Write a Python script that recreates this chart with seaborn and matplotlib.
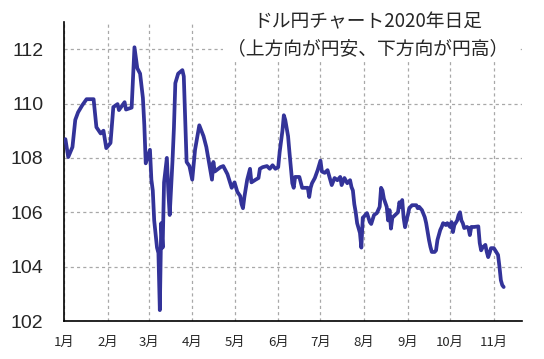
import numpy as np
import pandas as pd
import matplotlib
matplotlib.use("Agg")
import matplotlib.pyplot as plt
from matplotlib.patches import Rectangle
import seaborn as sns

# ---- data ----
days_since_jan1 = [
    1, 3, 6, 8, 10, 13, 16, 21, 23, 26, 28, 30, 33, 35, 38, 39, 43, 44, 48, 50,
    52, 54, 56, 57, 58, 61, 62, 63, 64, 66, 67, 68, 69, 70, 71, 73, 74, 75, 77, 78,
    79, 81, 84, 85, 86, 87, 89, 91, 93, 96, 99, 101, 103, 105, 106, 107, 111, 113, 116, 119,
    121, 123, 125, 126, 127, 128, 130, 132, 133, 136, 138, 139, 141, 144, 146, 148, 150, 152, 153, 155,
    156, 157, 159, 160, 162, 163, 164, 167, 169, 171, 173, 174, 175, 176, 178, 180, 182, 183, 185, 187,
    190, 192, 194, 196, 197, 199, 201, 203, 204, 205, 206, 207, 208, 210, 211, 212, 213, 215, 217, 218,
    220, 222, 224, 225, 226, 227, 229, 230, 231, 232, 233, 235, 237, 238, 239, 240, 241, 242, 243, 244,
    245, 247, 250, 251, 252, 254, 256, 257, 259, 260, 261, 263, 264, 265, 267, 268, 269, 271, 272, 274,
    275, 276, 277, 279, 280, 281, 282, 283, 284, 286, 287, 288, 289, 291, 294, 295, 296, 297, 299, 300,
    301, 302, 303, 305, 306, 308, 309, 310, 311, 312,
]
usd_jpy = [
    108.69, 108.03, 108.40, 109.40, 109.68, 109.94, 110.16, 110.16, 109.13, 108.90, 109.00, 108.36, 108.55, 109.87, 109.98, 109.76, 110.05, 109.78, 109.85, 112.07,
    111.30, 111.10, 110.20, 109.20, 107.80, 108.30, 107.20, 106.80, 105.70, 104.70, 104.50, 102.40, 105.60, 104.70, 107.10, 108.00, 106.80, 105.90, 107.90, 109.10,
    110.75, 111.10, 111.23, 111.00, 109.40, 107.85, 107.70, 107.20, 108.30, 109.20, 108.80, 108.40, 107.80, 107.20, 107.85, 107.50, 107.66, 107.70, 107.40, 106.90,
    107.10, 106.75, 106.60, 106.30, 106.15, 106.56, 107.20, 107.60, 107.10, 107.20, 107.26, 107.60, 107.66, 107.70, 107.60, 107.73, 107.60, 107.66, 108.20, 109.00,
    109.57, 109.40, 108.80, 108.20, 107.07, 106.90, 107.30, 107.30, 106.90, 106.90, 106.90, 106.56, 106.90, 107.07, 107.26, 107.55, 107.90, 107.50, 107.45, 107.55,
    107.00, 107.26, 107.18, 107.30, 107.00, 107.26, 107.07, 107.18, 106.93, 106.80, 106.30, 106.00, 105.60, 105.24, 104.70, 105.80, 105.85, 105.97, 105.64, 105.57,
    105.90, 105.97, 106.20, 106.90, 106.80, 106.50, 106.20, 105.70, 106.08, 105.40, 105.80, 105.90, 106.00, 106.37, 106.20, 106.45, 105.80, 105.45, 105.70, 105.90,
    106.15, 106.26, 106.26, 106.15, 106.20, 106.08, 105.82, 105.60, 104.98, 104.73, 104.54, 104.54, 104.60, 104.98, 105.35, 105.46, 105.60, 105.53, 105.60, 105.46,
    105.64, 105.27, 105.53, 105.70, 105.90, 106.00, 105.70, 105.60, 105.42, 105.46, 105.42, 105.16, 105.46, 105.46, 105.48, 104.87, 104.60, 104.70, 104.80, 104.54,
    104.35, 104.50, 104.68, 104.68, 104.60, 104.43, 104.00, 103.50, 103.32, 103.25,
]
month_labels = ["1月", "2月", "3月", "4月", "5月", "6月", "7月", "8月", "9月", "10月", "11月"]
y_ticks = [102, 104, 106, 108, 110, 112]
title_lines = ["ドル円チャート2020年日足", "（上方向が円安、下方向が円高）"]

start = pd.Timestamp("2020-01-01")
df = pd.DataFrame({
    "date": start + pd.to_timedelta(days_since_jan1, unit="D"),
    "rate": usd_jpy,
})
month_starts = [pd.Timestamp(2020, m, 1) for m in range(1, len(month_labels) + 1)]

# ---- style ----
sns.set_style("white")
plt.rcParams["font.family"] = ["Liberation Sans", "Noto Sans CJK JP", "DejaVu Sans"]

W, H = 544, 359
fig = plt.figure(figsize=(W / 100, H / 100), dpi=100)
ax = fig.add_axes([64 / W, 1 - 321 / H, (522 - 64) / W, (321 - 22) / H])

sns.lineplot(data=df, x="date", y="rate", ax=ax, color="#333399", linewidth=2.7, zorder=3)

ax.set_xlim(start, pd.Timestamp("2020-11-21"))
ax.set_ylim(102, 113)
ax.set_yticks(y_ticks)
ax.set_yticklabels([str(v) for v in y_ticks], fontsize=14)
ax.set_xticks(month_starts)
ax.set_xticklabels(month_labels, fontsize=9.5, family=["Noto Sans CJK JP"])
ax.set_xlabel("")
ax.set_ylabel("")

for s in ["top", "right"]:
    ax.spines[s].set_visible(False)
for s in ["left", "bottom"]:
    ax.spines[s].set_color("black")
    ax.spines[s].set_linewidth(1.2)

ax.tick_params(axis="y", direction="in", length=6, width=1, color="black", pad=15)
ax.tick_params(axis="x", direction="in", length=4, width=1, color="black", pad=11)

ax.grid(True, which="major", axis="both", color="#a8a8a8", linestyle=(0, (2.5, 2.5)), linewidth=0.9)
ax.set_axisbelow(True)

# title box (white background covering grid)
box = Rectangle((223 / W, 1 - 62 / H), (518 - 223) / W, (62 - 6) / H,
                transform=fig.transFigure, facecolor="white", edgecolor="none", zorder=5)
fig.add_artist(box)
fig.text(368 / W, 1 - 22 / H, title_lines[0], ha="center", va="center", fontsize=13.5,
         family=["Noto Sans CJK JP", "DejaVu Sans"], zorder=6)
fig.text(368 / W, 1 - 49 / H, title_lines[1], ha="center", va="center", fontsize=13.5,
         family=["Noto Sans CJK JP", "DejaVu Sans"], zorder=6)

fig.savefig("out.png", dpi=100)
